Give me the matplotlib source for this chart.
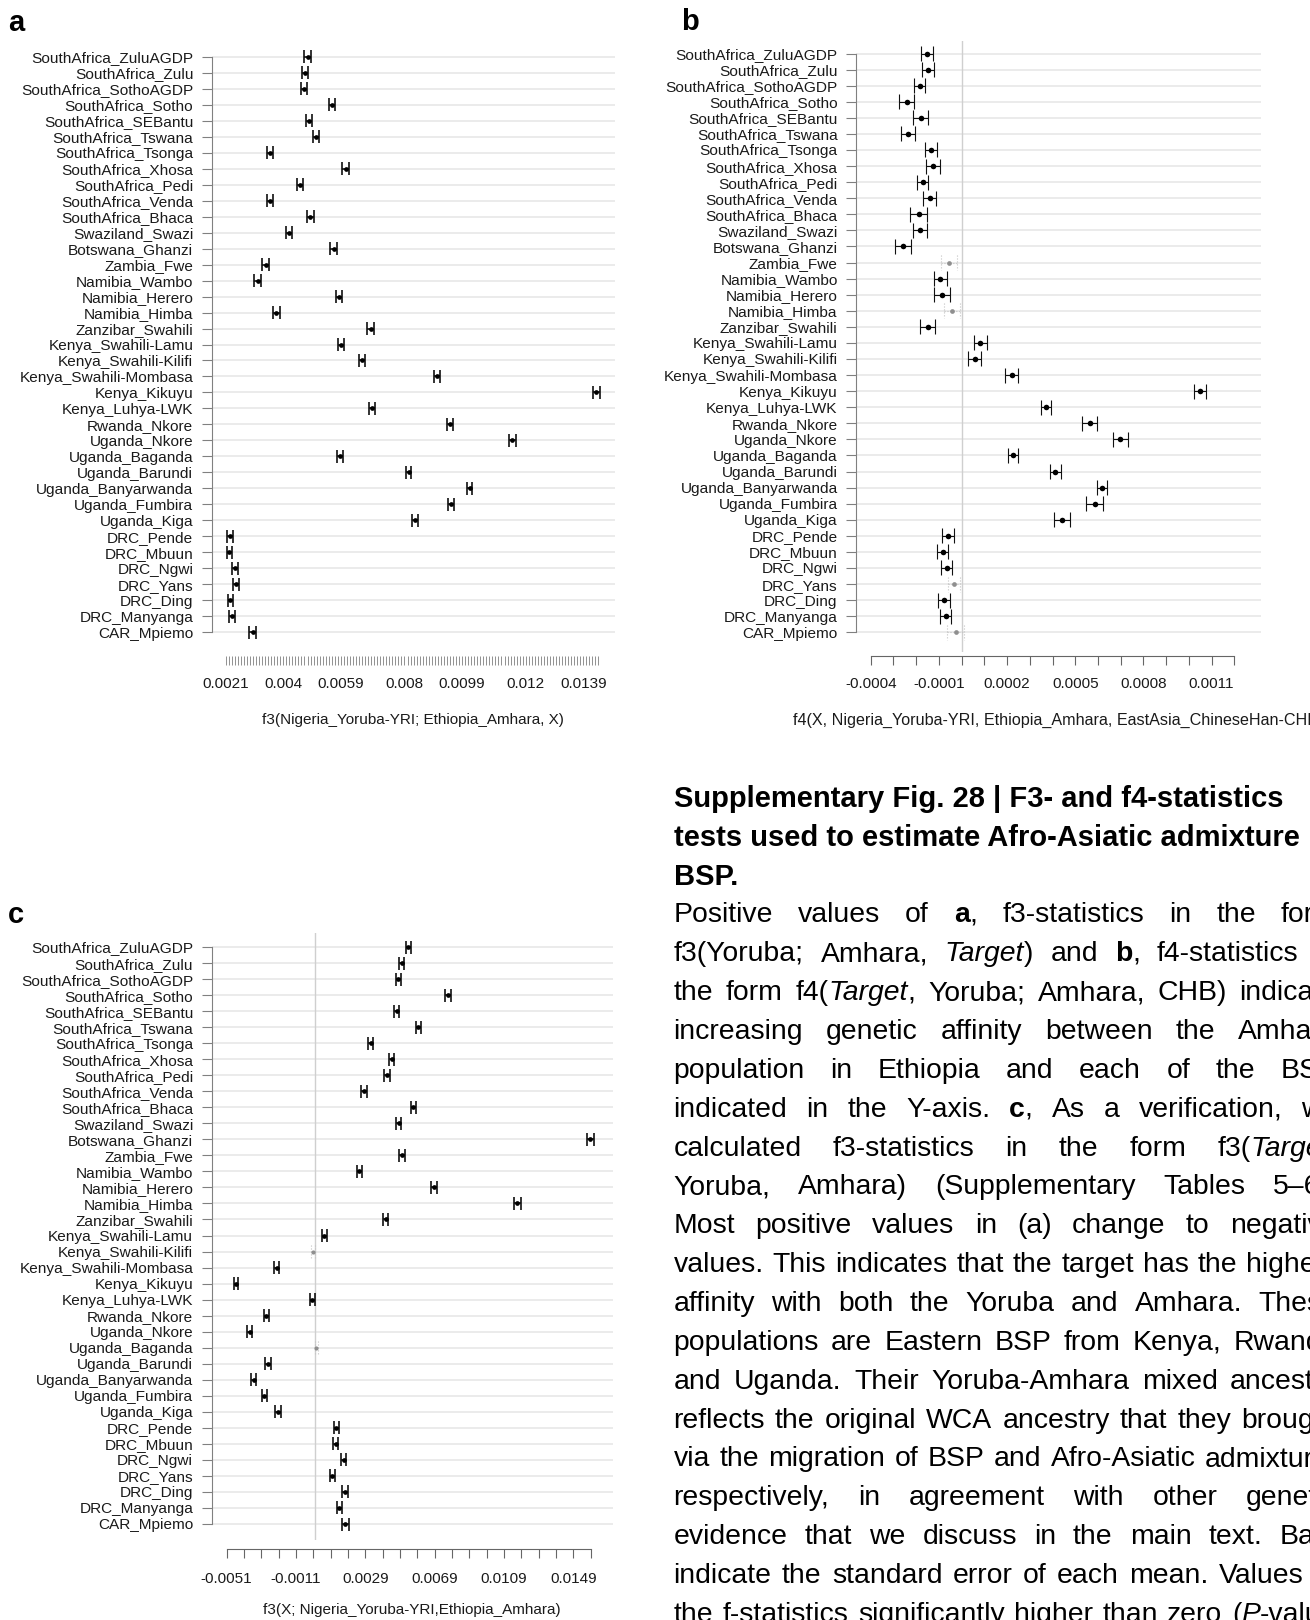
import re
import numpy as np
import matplotlib
matplotlib.use("Agg")
import matplotlib.pyplot as plt

plt.rcParams["font.family"] = ["Liberation Sans", "DejaVu Sans"]

FIG_W, FIG_H, DPI = 1310, 1620, 100

# ---------------------------------------------------------------- data
populations = [
    "SouthAfrica_ZuluAGDP", "SouthAfrica_Zulu", "SouthAfrica_SothoAGDP",
    "SouthAfrica_Sotho", "SouthAfrica_SEBantu", "SouthAfrica_Tswana",
    "SouthAfrica_Tsonga", "SouthAfrica_Xhosa", "SouthAfrica_Pedi",
    "SouthAfrica_Venda", "SouthAfrica_Bhaca", "Swaziland_Swazi",
    "Botswana_Ghanzi", "Zambia_Fwe", "Namibia_Wambo", "Namibia_Herero",
    "Namibia_Himba", "Zanzibar_Swahili", "Kenya_Swahili-Lamu",
    "Kenya_Swahili-Kilifi", "Kenya_Swahili-Mombasa", "Kenya_Kikuyu",
    "Kenya_Luhya-LWK", "Rwanda_Nkore", "Uganda_Nkore", "Uganda_Baganda",
    "Uganda_Barundi", "Uganda_Banyarwanda", "Uganda_Fumbira", "Uganda_Kiga",
    "DRC_Pende", "DRC_Mbuun", "DRC_Ngwi", "DRC_Yans", "DRC_Ding",
    "DRC_Manyanga", "CAR_Mpiemo",
]

# a: f3(Nigeria_Yoruba-YRI; Ethiopia_Amhara, X)
f3_yri_amhara_x = [
    0.00480, 0.00473, 0.00469, 0.00561, 0.00484, 0.00508, 0.00356, 0.00606,
    0.00454, 0.00356, 0.00489, 0.00418, 0.00566, 0.00342, 0.00315, 0.00585,
    0.00377, 0.00688, 0.00590, 0.00660, 0.00906, 0.01433, 0.00694, 0.00949,
    0.01156, 0.00587, 0.00814, 0.01015, 0.00954, 0.00835, 0.00225, 0.00222,
    0.00240, 0.00244, 0.00225, 0.00231, 0.00299,
]
f3_yri_amhara_x_se = [
    0.00010, 0.00010, 0.00010, 0.00011, 0.00010, 0.00011, 0.00010, 0.00011,
    0.00010, 0.00010, 0.00011, 0.00010, 0.00011, 0.00011, 0.00010, 0.00010,
    0.00011, 0.00011, 0.00010, 0.00010, 0.00010, 0.00011, 0.00010, 0.00010,
    0.00011, 0.00009, 0.00009, 0.00009, 0.00010, 0.00011, 0.00010, 0.00009,
    0.00010, 0.00010, 0.00009, 0.00009, 0.00012,
]

# b: f4(X, Nigeria_Yoruba-YRI, Ethiopia_Amhara, EastAsia_ChineseHan-CHB)
f4_x_yri_amhara_chb = [
    -0.000154, -0.000147, -0.000184, -0.000242, -0.000180, -0.000237,
    -0.000135, -0.000126, -0.000171, -0.000141, -0.000188, -0.000184,
    -0.000258, -0.000056, -0.000094, -0.000086, -0.000043, -0.000150,
    0.000083, 0.000058, 0.000220, 0.001049, 0.000370, 0.000564, 0.000699,
    0.000226, 0.000412, 0.000618, 0.000585, 0.000442, -0.000060, -0.000083,
    -0.000066, -0.000034, -0.000079, -0.000070, -0.000026,
]
f4_x_yri_amhara_chb_se = [
    0.000026, 0.000026, 0.000025, 0.000034, 0.000032, 0.000031, 0.000028,
    0.000031, 0.000025, 0.000030, 0.000037, 0.000032, 0.000036, 0.000035,
    0.000028, 0.000035, 0.000034, 0.000033, 0.000030, 0.000028, 0.000030,
    0.000027, 0.000022, 0.000033, 0.000034, 0.000024, 0.000024, 0.000024,
    0.000036, 0.000036, 0.000028, 0.000024, 0.000024, 0.000027, 0.000026,
    0.000024, 0.000038,
]
f4_significant = [
    True, True, True, True, True, True, True, True, True, True, True, True,
    True, False, True, True, False, True, True, True, True, True, True, True,
    True, True, True, True, True, True, True, True, True, False, True, True,
    False,
]

# c: f3(X; Nigeria_Yoruba-YRI, Ethiopia_Amhara)
f3_x_yri_amhara = [
    0.00538, 0.00501, 0.00481, 0.00767, 0.00472, 0.00597, 0.00322, 0.00442,
    0.00415, 0.00283, 0.00567, 0.00483, 0.01587, 0.00501, 0.00256, 0.00686,
    0.01167, 0.00408, 0.00054, -0.00012, -0.00221, -0.00456, -0.00015,
    -0.00281, -0.00376, 0.00008, -0.00271, -0.00353, -0.00292, -0.00212,
    0.00124, 0.00120, 0.00165, 0.00099, 0.00174, 0.00140, 0.00174,
]
f3_x_yri_amhara_se = [
    0.00015, 0.00015, 0.00015, 0.00018, 0.00015, 0.00016, 0.00015, 0.00016,
    0.00015, 0.00015, 0.00016, 0.00015, 0.00020, 0.00016, 0.00015, 0.00017,
    0.00020, 0.00016, 0.00014, 0.00010, 0.00016, 0.00014, 0.00013, 0.00016,
    0.00015, 0.00010, 0.00015, 0.00014, 0.00015, 0.00016, 0.00015, 0.00015,
    0.00015, 0.00015, 0.00016, 0.00014, 0.00020,
]
f3_significant = [
    True, True, True, True, True, True, True, True, True, True, True, True,
    True, True, True, True, True, True, True, False, True, True, True, True,
    True, False, True, True, True, True, True, True, True, True, True, True,
    True,
]

a_tick_values = [0.0021, 0.004, 0.0059, 0.008, 0.0099, 0.012, 0.0139]
a_tick_labels = ["0.0021", "0.004", "0.0059", "0.008", "0.0099", "0.012", "0.0139"]
b_tick_values = [-0.0004, -0.0001, 0.0002, 0.0005, 0.0008, 0.0011]
b_tick_labels = ["-0.0004", "-0.0001", "0.0002", "0.0005", "0.0008", "0.0011"]
c_tick_values = [-0.0051, -0.0011, 0.0029, 0.0069, 0.0109, 0.0149]
c_tick_labels = ["-0.0051", "-0.0011", "0.0029", "0.0069", "0.0109", "0.0149"]

# axis comb ranges: (start, stop, step)
a_comb = (0.0021, 0.01443, 0.0001)
b_comb = (-0.0004, 0.0012, 0.0001)
c_comb = (-0.0051, 0.0159, 0.001)

title_lines = [
    "Supplementary Fig. 28 | F3- and f4-statistics",
    "tests used to estimate Afro-Asiatic admixture in",
    "BSP.",
]
body_lines = [
    "Positive values of **a**, f3-statistics in the form",
    "f3(Yoruba; Amhara, *Target*) and **b**, f4-statistics in",
    "the form f4(*Target*, Yoruba; Amhara, CHB) indicate",
    "increasing genetic affinity between the Amhara",
    "population in Ethiopia and each of the BSP",
    "indicated in the Y-axis. **c**, As a verification, we",
    "calculated f3-statistics in the form f3(*Target*,",
    "Yoruba, Amhara) (Supplementary Tables 5\u20136).",
    "Most positive values in (a) change to negative",
    "values. This indicates that the target has the highest",
    "affinity with both the Yoruba and Amhara. These",
    "populations are Eastern BSP from Kenya, Rwanda",
    "and Uganda. Their Yoruba-Amhara mixed ancestry",
    "reflects the original WCA ancestry that they brought",
    "via the migration of BSP and Afro-Asiatic admixture,",
    "respectively, in agreement with other genetic",
    "evidence that we discuss in the main text. Bars",
    "indicate the standard error of each mean. Values of",
    "the f-statistics significantly higher than zero (*P*-value",
]

# ---------------------------------------------------------------- figure
fig = plt.figure(figsize=(FIG_W / DPI, FIG_H / DPI), dpi=DPI)
N = len(populations)
rows = np.arange(1, N + 1)
PX2PT = 72.0 / DPI


def build_panel(rect, first_row, last_row, anchor_val, anchor_px, ppu, axis_px):
    left, right, top, bottom = rect
    ax = fig.add_axes([left / FIG_W, 1 - bottom / FIG_H,
                       (right - left) / FIG_W, (bottom - top) / FIG_H])
    step = (last_row - first_row) / (N - 1)
    ax.set_ylim(N + (bottom - last_row) / step, 1 - (first_row - top) / step)
    ax.set_xlim(anchor_val - (anchor_px - left) / ppu,
                anchor_val + (right - anchor_px) / ppu)
    ax.set_facecolor("none")
    for side in ("top", "right"):
        ax.spines[side].set_visible(False)
    ax.spines["left"].set_bounds(1, N)
    ax.spines["left"].set_color("#808080")
    ax.spines["left"].set_linewidth(0.8)
    ax.spines["bottom"].set_position(("outward", (axis_px - bottom) * PX2PT))
    ax.spines["bottom"].set_color("#666666")
    ax.spines["bottom"].set_linewidth(0.8)
    ax.set_yticks(rows)
    ax.set_yticklabels(populations)
    ax.tick_params(axis="y", length=7.0, width=0.8, color="#808080", pad=6.2,
                   labelsize=11.1, labelcolor="#1a1a1a")
    ax.yaxis.grid(True, color="#e9e9e9", lw=1.3)
    ax.set_axisbelow(True)
    return ax, step


def set_x_axis(ax, comb, values, labels, xlabel, pad, labelpad,
               comb_lw=0.8, xlabel_size=11.0):
    start, stop, inc = comb
    minor = np.arange(start, stop + inc * 0.5, inc)
    ax.set_xticks(values)
    ax.set_xticklabels(labels)
    ax.set_xticks(minor, minor=True)
    ax.spines["bottom"].set_bounds(minor[0], minor[-1])
    ax.tick_params(axis="x", which="both", length=6.6, width=comb_lw,
                   color="#666666", pad=pad, labelsize=11, labelcolor="#1a1a1a")
    ax.set_xlabel(xlabel, fontsize=xlabel_size, labelpad=labelpad,
                  color="#1a1a1a")


def draw_intervals(ax, means, ses, signif, cap, ms, lw, faded_ms):
    m = np.asarray(means)
    s = np.asarray(ses)
    sig = np.asarray(signif, dtype=bool)
    styles = [(sig, "#111111", "-", "#000000", ms, lw),
              (~sig, "#c4c4c4", ":", "#8f8f8f", faded_ms, 0.8)]
    for mask, col, ls, pcol, size, width in styles:
        if not mask.any():
            continue
        y = rows[mask]
        lo, hi = (m - s)[mask], (m + s)[mask]
        ax.hlines(y, lo, hi, colors=col, linestyles=ls, lw=width, zorder=3)
        ax.vlines(np.r_[lo, hi], np.r_[y, y] - cap, np.r_[y, y] + cap,
                  colors=col, linestyles=ls, lw=width, zorder=3)
        ax.plot(m[mask], y, "o", ms=size, color=pcol, mec="none", zorder=4)


# panel a
ax_a, step_a = build_panel((211.7, 615, 41, 652), 56.7, 632.3,
                           0.0021, 225.7, 30305.0, 656)
draw_intervals(ax_a, f3_yri_amhara_x, f3_yri_amhara_x_se,
               [True] * N, 6.5 / step_a, 3.4, 1.2, 3.0)
set_x_axis(ax_a, a_comb, a_tick_values, a_tick_labels,
           "f3(Nigeria_Yoruba-YRI; Ethiopia_Amhara, X)", 8.6, 16.0,
           comb_lw=0.5)
ax_a.spines["bottom"].set_visible(False)

# panel b
ax_b, step_b = build_panel((856, 1261, 41, 652), 53.5, 632.3,
                           -0.0004, 870.7, 227250.0, 655.7)
ax_b.axvline(0, color="#cfcfcf", lw=1.0, zorder=1)
draw_intervals(ax_b, f4_x_yri_amhara_chb, f4_x_yri_amhara_chb_se,
               f4_significant, 7.5 / step_b, 4.0, 0.8, 3.4)
set_x_axis(ax_b, b_comb, b_tick_values, b_tick_labels,
           "f4(X, Nigeria_Yoruba-YRI, Ethiopia_Amhara, EastAsia_ChineseHan-CHB)",
           8.6, 15.6, xlabel_size=11.6)

# panel c
ax_c, step_c = build_panel((211.5, 612.7, 933, 1540), 947, 1524,
                           -0.0051, 226.6, 17333.0, 1549)
ax_c.axvline(0, color="#cfcfcf", lw=1.0, zorder=1)
draw_intervals(ax_c, f3_x_yri_amhara, f3_x_yri_amhara_se,
               f3_significant, 6.5 / step_c, 3.4, 1.2, 3.0)
set_x_axis(ax_c, c_comb, c_tick_values, c_tick_labels,
           "f3(X; Nigeria_Yoruba-YRI,Ethiopia_Amhara)", 10.0, 12.5)

# panel letters
for letter, x, yb in (("a", 8, 31), ("b", 681, 30), ("c", 8, 923)):
    fig.text(x / FIG_W, 1 - yb / FIG_H, letter, fontsize=21, fontweight="bold",
             ha="left", va="baseline")

# ---------------------------------------------------------------- caption
COL_X, COL_W = 673.6, 664.0
TITLE_Y0, TITLE_DY = 807.0, 39.0
BODY_Y0, BODY_DY = 922.5, 38.85
BODY_FS, TITLE_FS = 20.45, 21.0

for k, line in enumerate(title_lines):
    fig.text(COL_X / FIG_W, 1 - (TITLE_Y0 + k * TITLE_DY) / FIG_H, line,
             fontsize=TITLE_FS, fontweight="bold", ha="left", va="baseline")

renderer = fig.canvas.get_renderer()
TOKEN = re.compile(r"\*\*(.+?)\*\*|\*(.+?)\*|([^*]+)")


def parse_word(word):
    segs = []
    for b, i, n in TOKEN.findall(word):
        if b:
            segs.append((b, "bold", "normal"))
        elif i:
            segs.append((i, "normal", "italic"))
        else:
            segs.append((n, "normal", "normal"))
    return segs


def seg_width(txt, weight, style):
    t = fig.text(0, 0, txt, fontsize=BODY_FS, fontweight=weight, fontstyle=style)
    w = t.get_window_extent(renderer).width
    t.remove()
    return w


for k, line in enumerate(body_lines):
    words = [parse_word(w) for w in line.split(" ")]
    widths = [[seg_width(*seg) for seg in w] for w in words]
    total = sum(sum(ws) for ws in widths)
    gap = (COL_W - total) / max(len(words) - 1, 1)
    x = COL_X
    base = 1 - (BODY_Y0 + k * BODY_DY) / FIG_H
    for segs, ws in zip(words, widths):
        for (txt, weight, style), w in zip(segs, ws):
            fig.text(x / FIG_W, base, txt, fontsize=BODY_FS, fontweight=weight,
                     fontstyle=style, ha="left", va="baseline")
            x += w
        x += gap

fig.savefig("out.png", dpi=DPI, facecolor="white")
